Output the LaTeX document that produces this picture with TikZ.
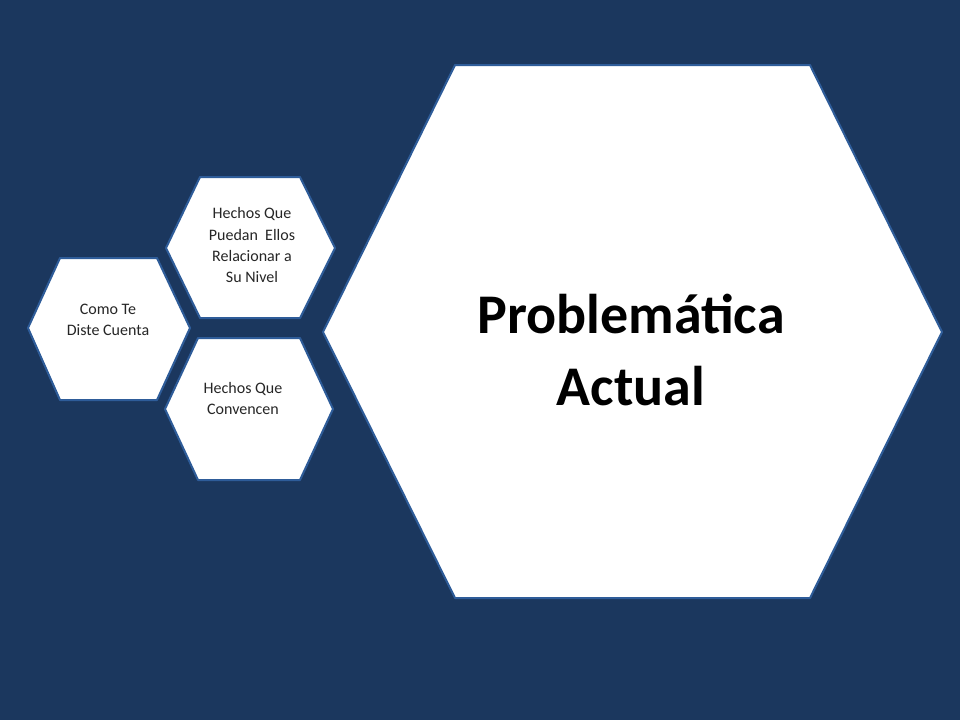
\documentclass[tikz,border=0pt]{standalone}
\usepackage{fontspec}
\setmainfont{Carlito}
\definecolor{bg}{HTML}{1B375E}
\definecolor{edge}{HTML}{2E5C99}
\tikzset{hex/.style={fill=white,draw=edge,line width=2pt,line join=round},
 lbl/.style={align=center,text=black!85,font=\fontsize{16}{21}\selectfont}}
\begin{document}
\begin{tikzpicture}[x=1pt,y=-1pt]
\fill[bg] (0,0) rectangle (960,720);
\useasboundingbox (0,0) rectangle (960,720);
\draw[hex] (323,332)--(455,65)--(810,65)--(942,332)--(810,598)--(455,598)--cycle;
\draw[hex] (28,328)--(60,258)--(157,258)--(190,328)--(157,400)--(60,400)--cycle;
\draw[hex] (166,248)--(200,177)--(300,177)--(335,248)--(300,318)--(200,318)--cycle;
\draw[hex] (165,409)--(198,338)--(300,338)--(333,409)--(300,480)--(198,480)--cycle;
\node[lbl] (como) at (108,320) {Como Te\\Diste Cuenta};
\node[lbl] (puedan) at (252,245) {Hechos Que\\Puedan\ \ Ellos\\Relacionar a\\Su Nivel};
\node[lbl] (conv) at (243,398) {Hechos Que\\Convencen};
\node[align=center,font=\bfseries\fontsize{56}{72}\selectfont] (prob) at (631,350) {Problemática\\Actual};
\end{tikzpicture}
\end{document}
